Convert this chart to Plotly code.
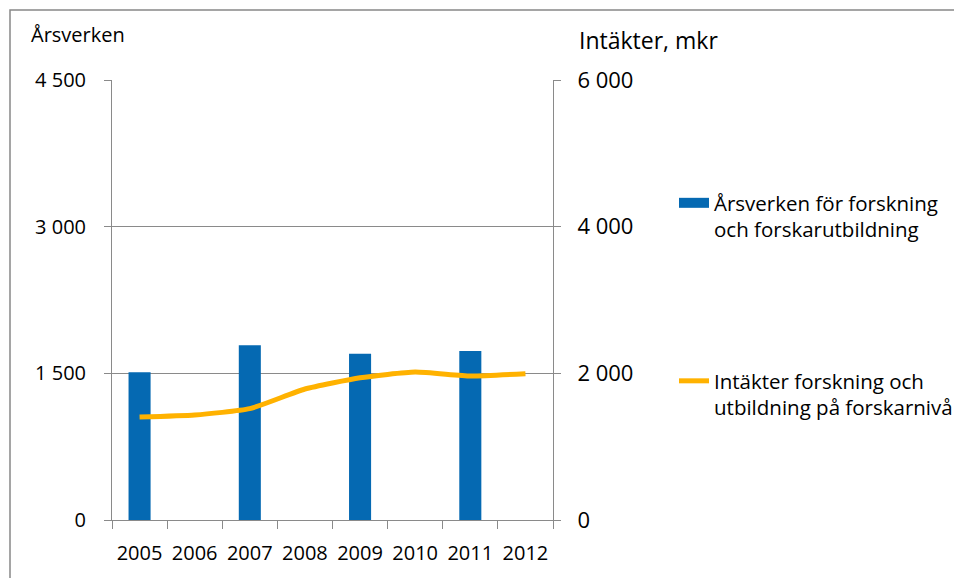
import plotly.graph_objects as go

years = ["2005", "2006", "2007", "2008", "2009", "2010", "2011", "2012"]
arsverken = [1510, None, 1786, None, 1700, None, 1728, None]
intakter = [1404, 1432, 1518, 1786, 1940, 2018, 1963, 1995]

left_ticks = [0, 1500, 3000, 4500]
left_ticktext = ["0", "1 500", "3 000", "4 500"]
right_ticks = [0, 2000, 4000, 6000]
right_ticktext = ["0", "2 000", "4 000", "6 000"]

bar_name = "Årsverken för forskning<br>och forskarutbildning"
line_name = "Intäkter forskning och<br>utbildning på forskarnivå"

FONT = "Open Sans"
GRID = "#8a8a8a"
BLUE = "#0569B2"
ORANGE = "#FFB200"

W, H = 962, 578
OFF = 8  # page body margin offset
# target screen positions of the plot area
SL, SR, ST, SB = 112, 553, 80, 520
ML, MT = SL - OFF, ST - OFF
MR, MB = W - (SR - OFF), H - (SB - OFF)
PW, PH = W - ML - MR, H - MT - MB


def px_x(p):
    return (p - OFF - ML) / PW


def px_y(p):
    return (H - MB - (p - OFF)) / PH


fig = go.Figure()
fig.add_trace(go.Bar(
    x=years, y=arsverken, name=bar_name, marker_color=BLUE,
    marker_line_width=0, width=0.4, showlegend=False,
))
fig.add_trace(go.Scatter(
    x=years, y=intakter, name=line_name, yaxis="y2", mode="lines",
    line=dict(color=ORANGE, width=5, shape="spline", smoothing=0.5),
    legend="legend2",
))
# legend-only entry with a wide rectangular swatch for the bars
fig.add_trace(go.Scatter(
    x=[None], y=[None], name=bar_name, mode="lines",
    line=dict(color=BLUE, width=13), legend="legend",
))

fig.update_layout(
    width=W, height=H,
    margin=dict(l=ML, r=MR, t=MT, b=MB, autoexpand=False),
    paper_bgcolor="white", plot_bgcolor="white",
    font=dict(family=FONT, color="black", size=20),
    showlegend=True,
    xaxis=dict(
        type="category", range=[-0.5, 7.5], showgrid=False,
        showline=True, linecolor=GRID, linewidth=1,
        ticks="outside", tickson="boundaries", ticklen=8, tickcolor=GRID,
        tickfont=dict(size=20), ticklabelstandoff=15, tickangle=0,
        automargin=False,
    ),
    yaxis=dict(
        range=[0, 4500], tickvals=left_ticks, ticktext=left_ticktext,
        showgrid=True, gridcolor=GRID, gridwidth=1, zeroline=False,
        showline=True, linecolor=GRID, linewidth=1,
        ticks="outside", ticklen=7, tickcolor=GRID,
        tickfont=dict(size=20), ticklabelstandoff=14, automargin=False,
    ),
    yaxis2=dict(
        range=[0, 6000], tickvals=right_ticks, ticktext=right_ticktext,
        overlaying="y", side="right", showgrid=False, zeroline=False,
        showline=True, linecolor=GRID, linewidth=1,
        ticks="outside", ticklen=7, tickcolor=GRID,
        tickfont=dict(size=22), ticklabelstandoff=12, automargin=False,
    ),
    legend=dict(
        x=px_x(674), y=px_y(183), xanchor="left", yanchor="top",
        font=dict(size=20.5), valign="top", bgcolor="rgba(0,0,0,0)",
    ),
    legend2=dict(
        x=px_x(674), y=px_y(361), xanchor="left", yanchor="top",
        font=dict(size=20.5), valign="top", bgcolor="rgba(0,0,0,0)",
    ),
    shapes=[dict(
        type="rect", xref="paper", yref="paper",
        x0=px_x(10), x1=px_x(1100), y0=px_y(700), y1=px_y(10),
        line=dict(color="#888888", width=1.5), fillcolor="rgba(0,0,0,0)",
        layer="below",
    )],
    annotations=[
        dict(text="Årsverken", xref="paper", yref="paper",
             x=px_x(29), y=px_y(35), xanchor="left", yanchor="middle",
             showarrow=False, font=dict(size=20)),
        dict(text="Intäkter, mkr", xref="paper", yref="paper",
             x=px_x(577), y=px_y(40), xanchor="left", yanchor="middle",
             showarrow=False, font=dict(size=23)),
    ],
)

fig.write_html("out.html")
